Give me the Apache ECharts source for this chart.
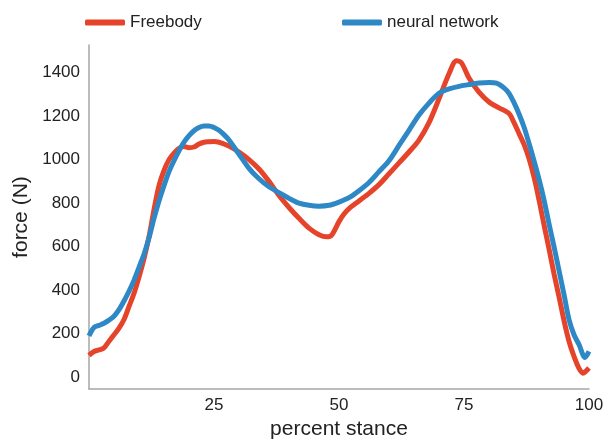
<!DOCTYPE html>
<html>
<head>
<meta charset="utf-8">
<style>
  html, body { margin: 0; padding: 0; background: #fff; }
  #chart { width: 613px; height: 445px; }
</style>
<script src="https://cdn.jsdelivr.net/npm/echarts@6/dist/echarts.min.js"></script>
</head>
<body>
<div id="chart"></div>
<script>
// percent stance (x) for each series
const freebodyStance = [0, 1, 2, 3, 4, 5, 6, 7, 8, 9, 10, 11, 12, 13, 14, 15, 16, 17, 18, 19, 20, 21, 22, 23, 24, 25, 26, 27, 28, 30, 32, 34, 36, 38, 40, 42, 44, 46, 47.5, 48.5, 50, 51, 52, 54, 56, 58, 60, 62, 64, 66, 68, 70, 72, 73.5, 74.5, 76, 78, 80, 82, 84, 85, 86, 87, 88, 89, 90, 91, 92, 93, 94, 95, 96, 97, 98, 98.8, 99.4, 100];
const freebodyForce = [100, 118, 125, 135, 165, 195, 225, 265, 325, 385, 460, 545, 645, 770, 880, 950, 1000, 1030, 1052, 1060, 1055, 1058, 1072, 1080, 1082, 1083, 1080, 1072, 1062, 1035, 1000, 957, 900, 835, 780, 730, 685, 655, 645, 652, 715, 750, 775, 810, 845, 885, 935, 985, 1035, 1090, 1170, 1280, 1395, 1455, 1445, 1375, 1310, 1265, 1238, 1212, 1170, 1120, 1070, 1005, 920, 815, 700, 590, 475, 370, 260, 165, 95, 40, 18, 28, 42];

const neuralStance = [0, 1, 2, 3, 4, 5, 6, 7, 8, 9, 10, 11, 12, 13, 14, 15, 16, 17, 18, 19, 20, 21, 22, 23, 24, 25, 26, 27, 28, 30, 32, 34, 36, 38, 40, 42, 44, 46, 48, 50, 52, 54, 56, 58, 60, 62, 64, 66, 68, 70, 72, 74, 76, 78, 80, 81.5, 83, 84, 85, 86, 87, 88, 89, 90, 91, 92, 93, 94, 95, 96, 97, 98, 99.2, 100];
const neuralForce = [190, 228, 238, 248, 262, 280, 310, 350, 395, 445, 505, 565, 640, 730, 810, 880, 945, 995, 1040, 1080, 1110, 1133, 1148, 1155, 1155, 1148, 1135, 1115, 1090, 1025, 960, 912, 875, 848, 822, 800, 790, 786, 790, 805, 825, 857, 895, 945, 995, 1065, 1135, 1205, 1260, 1305, 1325, 1337, 1345, 1352, 1355, 1352, 1330, 1305, 1262, 1210, 1150, 1075, 995, 910, 815, 705, 600, 490, 380, 265, 195, 150, 90, 118];

const xTicks = [25, 50, 75, 100];
const yTicks = [0, 200, 400, 600, 800, 1000, 1200, 1400];

const toPairs = (xs, ys) => xs.map((x, i) => [x, ys[i]]);

const chart = echarts.init(document.getElementById('chart'));
const axisLineStyle = { color: '#a6a6a6', width: 1.5 };
const font = 'Liberation Sans, Arial, sans-serif';
const labelFont = { color: '#222', fontSize: 17, fontFamily: font };

const option = {
  animation: false,
  color: ['#e5432a', '#2e88c5'],
  grid: { left: 89, right: 24, top: 45, bottom: 52 },
  legend: [
    {
      data: ['Freebody'], left: 80, top: 9, icon: 'roundRect',
      itemWidth: 40, itemHeight: 6, itemGap: 13,
      textStyle: { color: '#222', fontSize: 17, fontFamily: font }
    },
    {
      data: ['neural network'], left: 337, top: 9, icon: 'roundRect',
      itemWidth: 40, itemHeight: 6, itemGap: 13,
      textStyle: { color: '#222', fontSize: 17, fontFamily: font }
    }
  ],
  xAxis: {
    type: 'value', min: 0, max: 100, interval: 25,
    name: 'percent stance', nameLocation: 'middle', nameGap: 27,
    nameTextStyle: { color: '#222', fontSize: 21, fontFamily: font },
    axisLine: { onZero: false, lineStyle: axisLineStyle },
    axisTick: { show: false },
    splitLine: { show: false },
    axisLabel: Object.assign({ customValues: xTicks, margin: 8, formatter: v => String(v) }, labelFont)
  },
  yAxis: {
    type: 'value', min: -55, max: 1527,
    name: 'force (N)', nameLocation: 'middle', nameGap: 47,
    nameTextStyle: { color: '#222', fontSize: 21, fontFamily: font },
    axisLine: { show: true, lineStyle: axisLineStyle },
    axisTick: { show: false },
    splitLine: { show: false },
    axisLabel: Object.assign({ customValues: yTicks, margin: 9, formatter: v => String(v) }, labelFont)
  },
  series: [
    {
      name: 'Freebody', type: 'line', data: toPairs(freebodyStance, freebodyForce),
      showSymbol: false, smooth: 0.3, lineStyle: { width: 5, color: '#e5432a' }
    },
    {
      name: 'neural network', type: 'line', data: toPairs(neuralStance, neuralForce),
      showSymbol: false, smooth: 0.3, lineStyle: { width: 5, color: '#2e88c5' }
    }
  ]
};
chart.setOption(option);
</script>
</body>
</html>
